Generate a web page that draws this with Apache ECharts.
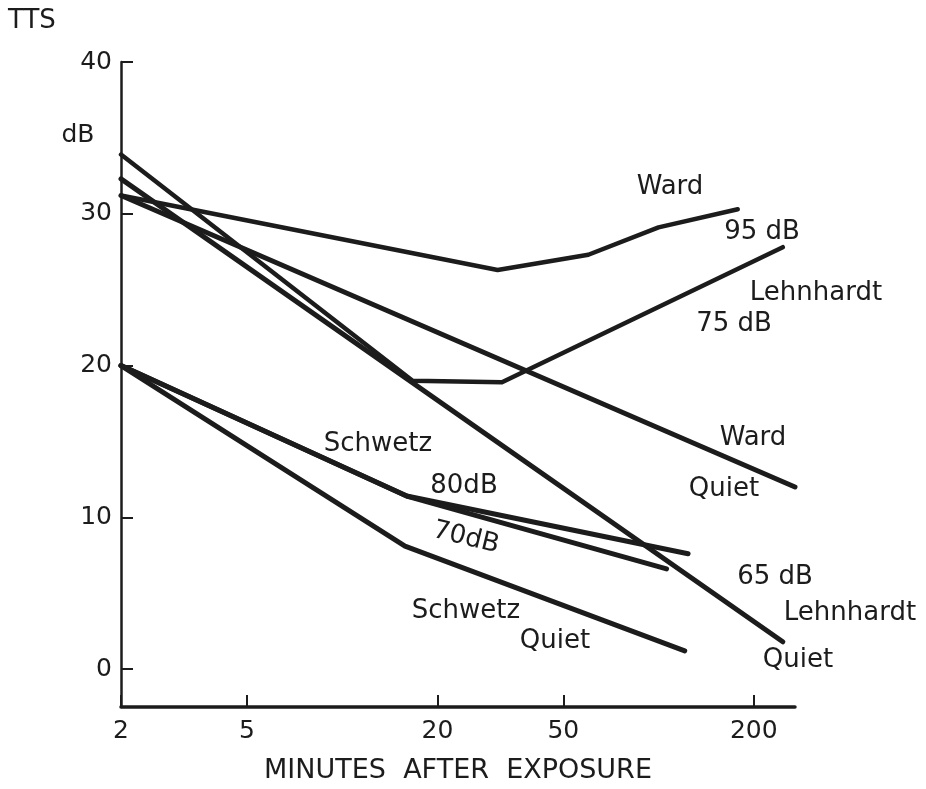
<!DOCTYPE html>
<html>
<head>
<meta charset="utf-8">
<script src="https://cdn.jsdelivr.net/npm/echarts@6/dist/echarts.min.js"></script>
<style>
  html, body { margin: 0; padding: 0; background: #ffffff; }
  #chart { width: 926px; height: 789px; }
</style>
</head>
<body>
<div id="chart"></div>
<script>
// ---- data (minutes after exposure, TTS in dB) ----
const xTickValues = [2, 5, 20, 50, 200];
const yTickValues = [0, 10, 20, 30, 40];

const ward95 = [[2, 31.2], [31, 26.3], [60, 27.3], [100, 29.1], [178, 30.3]];
const wardQuiet = [[2, 31.2], [270, 12.0]];
const lehnhardt75 = [[2, 33.9], [16.7, 19.0], [32, 18.9], [247, 27.8]];
const lehnhardtQuiet = [[2, 32.3], [247, 1.8]];
const schwetz80 = [[2, 20.0], [16, 11.4], [124, 7.6]];
const schwetz70 = [[2, 20.0], [16, 11.4], [106, 6.6]];
const schwetzQuiet = [[2, 20.0], [15.8, 8.1], [121, 1.2]];

const yAxisTitle = 'TTS';
const yUnit = 'dB';
const xAxisTitle = 'MINUTES  AFTER  EXPOSURE';
const annotationTexts = ['Ward', '95 dB', 'Lehnhardt', '75 dB', 'Ward', 'Quiet',
  'Schwetz', '80dB', '70dB', 'Schwetz', 'Quiet', '65 dB', 'Lehnhardt', 'Quiet'];

// ---- layout / style ----
const INK = '#1c1c1c';
const FONT = 'DejaVu Sans';
const annotationLayout = [
  [670, 187, 0], [762, 232, 0], [816, 293, 0], [734, 324, 0], [753, 438, 0], [724, 489, 0],
  [378, 444, 0], [464, 486, 0], [466, 538, -0.24], [466, 611, 0], [555, 641, 0],
  [775, 577, 0], [850, 613, 0], [798, 660, 0]
];

const chart = echarts.init(document.getElementById('chart'), null, { renderer: 'canvas' });

function lineSeries(name, data, width) {
  return {
    name: name,
    type: 'line',
    data: data,
    showSymbol: false,
    symbol: 'none',
    clip: false,
    silent: true,
    lineStyle: { color: INK, width: width, cap: 'round', join: 'round' }
  };
}

const graphics = annotationTexts.map(function (t, i) {
  const p = annotationLayout[i];
  return {
    type: 'text', x: p[0], y: p[1], rotation: p[2],
    style: { text: t, x: 0, y: 0, align: 'center', verticalAlign: 'middle',
      font: '26px "' + FONT + '"', fill: INK }
  };
});
graphics.push({
  type: 'text', x: 8, y: 21,
  style: { text: yAxisTitle, align: 'left', verticalAlign: 'middle', font: '26px "' + FONT + '"', fill: INK }
});
graphics.push({
  type: 'text', x: 78, y: 135,
  style: { text: yUnit, align: 'center', verticalAlign: 'middle', font: '25px "' + FONT + '"', fill: INK }
});

const option = {
  backgroundColor: '#ffffff',
  animation: false,
  grid: { left: 121, right: 131, top: 62, bottom: 78 },
  xAxis: {
    type: 'log',
    logBase: 10,
    min: 2,
    max: 270,
    name: xAxisTitle,
    nameLocation: 'middle',
    nameGap: 50,
    nameTextStyle: { fontFamily: FONT, fontSize: 27, color: INK },
    axisLine: { show: true, onZero: false, lineStyle: { color: INK, width: 3.5 } },
    axisTick: { show: true, inside: true, length: 12, customValues: xTickValues, lineStyle: { color: INK, width: 2 } },
    axisLabel: { show: true, customValues: xTickValues, margin: 12, fontFamily: FONT, fontSize: 25, color: INK },
    splitLine: { show: false },
    minorTick: { show: false }
  },
  yAxis: {
    type: 'value',
    min: -2.5,
    max: 40,
    axisLine: { show: true, onZero: false, lineStyle: { color: INK, width: 2.5 } },
    axisTick: { show: true, inside: true, length: 12, customValues: yTickValues, lineStyle: { color: INK, width: 2 } },
    axisLabel: { show: true, customValues: yTickValues, margin: 9, fontFamily: FONT, fontSize: 25, color: INK },
    splitLine: { show: false }
  },
  series: [
    lineSeries('Ward 95 dB', ward95, 4.5),
    lineSeries('Ward Quiet', wardQuiet, 5),
    lineSeries('Lehnhardt 75 dB', lehnhardt75, 4.5),
    lineSeries('Lehnhardt 65 dB / Quiet', lehnhardtQuiet, 5),
    lineSeries('Schwetz 80 dB', schwetz80, 5),
    lineSeries('Schwetz 70 dB', schwetz70, 5),
    lineSeries('Schwetz Quiet', schwetzQuiet, 5)
  ],
  graphic: graphics
};

chart.setOption(option);
</script>
</body>
</html>
